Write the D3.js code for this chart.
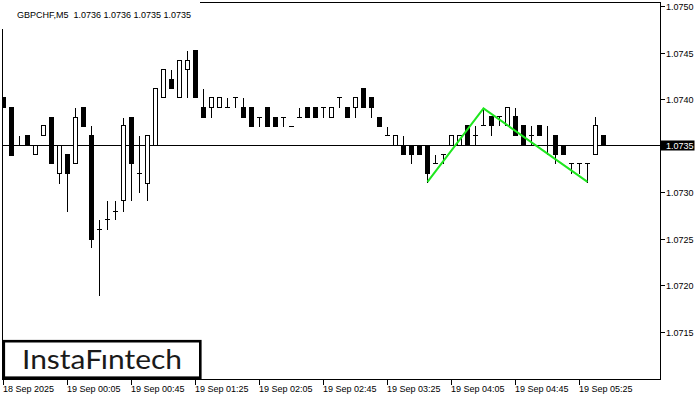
<!DOCTYPE html>
<html><head><meta charset="utf-8">
<script src="https://cdn.jsdelivr.net/npm/d3@7"></script>
<style>html,body{margin:0;padding:0;background:#fff;}svg{display:block;}</style>
</head><body>
<svg id="c" width="700" height="400"></svg>
<script>
// ---- data ----
const times = ["23:25","23:30","23:35","23:40","23:45","23:50","23:55","00:00",
"00:05","00:10","00:15","00:20","00:25","00:30","00:35","00:40",
"00:45","00:50","00:55","01:00","01:05","01:10","01:15","01:20",
"01:25","01:30","01:35","01:40","01:45","01:50","01:55","02:00",
"02:05","02:10","02:15","02:20","02:25","02:30","02:35","02:40",
"02:45","02:50","02:55","03:00","03:05","03:10","03:15","03:20",
"03:25","03:30","03:35","03:40","03:45","03:50","03:55","04:00",
"04:05","04:10","04:15","04:20","04:25","04:30","04:35","04:40",
"04:45","04:50","04:55","05:00","05:05","05:10","05:15","05:20",
"05:25","05:30","05:35","05:40"];
const open = [1.07402,1.07391,1.07351,1.07361,1.07341,1.07361,1.07381,1.07321,
1.07341,1.07331,1.07391,1.07361,1.07260,1.07271,1.07280,1.07291,
1.07381,1.07321,1.07310,1.07351,1.07402,1.07422,1.07402,1.07432,
1.07453,1.07391,1.07391,1.07391,1.07391,1.07402,1.07391,1.07391,
1.07381,1.07391,1.07381,1.07381,1.07371,1.07381,1.07391,1.07391,
1.07391,1.07381,1.07402,1.07391,1.07391,1.07412,1.07402,1.07381,
1.07361,1.07351,1.07351,1.07351,1.07351,1.07351,1.07331,1.07341,
1.07351,1.07351,1.07372,1.07361,1.07372,1.07382,1.07382,1.07372,
1.07382,1.07372,1.07361,1.07372,1.07351,1.07361,1.07351,1.07331,
1.07331,1.07331,1.07341,1.07361];
const high = [1.07402,1.07391,1.07361,1.07361,1.07351,1.07372,1.07381,1.07351,
1.07341,1.07391,1.07391,1.07372,1.07271,1.07291,1.07291,1.07381,
1.07381,1.07361,1.07361,1.07412,1.07432,1.07432,1.07442,1.07453,
1.07453,1.07412,1.07402,1.07402,1.07402,1.07402,1.07402,1.07391,
1.07381,1.07391,1.07381,1.07381,1.07371,1.07391,1.07391,1.07391,
1.07391,1.07391,1.07402,1.07391,1.07402,1.07412,1.07402,1.07381,
1.07371,1.07361,1.07361,1.07351,1.07351,1.07351,1.07341,1.07341,
1.07361,1.07361,1.07372,1.07372,1.07390,1.07382,1.07382,1.07391,
1.07391,1.07372,1.07372,1.07372,1.07372,1.07361,1.07351,1.07331,
1.07331,1.07331,1.07382,1.07361];
const low = [1.07391,1.07340,1.07351,1.07351,1.07341,1.07361,1.07331,1.07310,
1.07280,1.07331,1.07371,1.07241,1.07189,1.07260,1.07271,1.07280,
1.07291,1.07300,1.07291,1.07351,1.07402,1.07412,1.07402,1.07402,
1.07402,1.07381,1.07381,1.07391,1.07391,1.07391,1.07381,1.07371,
1.07371,1.07371,1.07371,1.07371,1.07371,1.07381,1.07381,1.07381,
1.07381,1.07381,1.07391,1.07381,1.07381,1.07391,1.07381,1.07371,
1.07361,1.07351,1.07341,1.07331,1.07341,1.07311,1.07331,1.07331,
1.07351,1.07351,1.07351,1.07351,1.07372,1.07361,1.07372,1.07372,
1.07361,1.07351,1.07351,1.07361,1.07341,1.07331,1.07341,1.07321,
1.07321,1.07311,1.07341,1.07351];
const close = [1.07391,1.07340,1.07351,1.07351,1.07351,1.07372,1.07331,1.07351,
1.07321,1.07381,1.07371,1.07250,1.07260,1.07271,1.07280,1.07372,
1.07331,1.07321,1.07361,1.07412,1.07432,1.07412,1.07442,1.07442,
1.07402,1.07381,1.07402,1.07402,1.07391,1.07402,1.07381,1.07371,
1.07381,1.07371,1.07371,1.07381,1.07371,1.07381,1.07381,1.07381,
1.07391,1.07391,1.07402,1.07381,1.07402,1.07391,1.07391,1.07371,
1.07361,1.07361,1.07341,1.07341,1.07341,1.07321,1.07331,1.07341,
1.07361,1.07361,1.07351,1.07361,1.07372,1.07372,1.07382,1.07391,
1.07361,1.07351,1.07361,1.07361,1.07351,1.07341,1.07341,1.07331,
1.07331,1.07331,1.07372,1.07351];
const priceTicks = [1.0750,1.0745,1.0740,1.0735,1.0730,1.0725,1.0720,1.0715];
const timeTickIdx = [0,8,16,24,32,40,48,56,64,72];
const timeTickLabels = ["18 Sep 2025","19 Sep 00:05","19 Sep 00:45","19 Sep 01:25","19 Sep 02:05",
"19 Sep 02:45","19 Sep 03:25","19 Sep 04:05","19 Sep 04:45","19 Sep 05:25"];
const patternIdx = [53,60,73];
const patternPrice = [1.07311,1.07390,1.07311];
const headerText = "GBPCHF,M5  1.0736 1.0736 1.0735 1.0735";
const currentPrice = 1.07351;

// ---- layout ----
const svg = d3.select("#c");
const plotL = 2.5, plotR = 660.5, plotT = 2.5, plotB = 379.5;
const x = d3.scalePoint().domain(times).range([3.5, 603.5]);
const y = d3.scaleLinear().domain([1.0715, 1.0750]).range([331.7, 6]);
const sy = v => Math.round(y(v)) + 0.5;
const font = "'Liberation Sans', Arial, sans-serif";

svg.append("defs").append("clipPath").attr("id","pc")
  .append("rect").attr("x",plotL).attr("y",plotT).attr("width",plotR-plotL).attr("height",plotB-plotT);

const g = svg.append("g").attr("clip-path","url(#pc)").attr("shape-rendering","crispEdges");

// current price line
g.append("line").attr("x1",plotL).attr("x2",plotR).attr("y1",sy(currentPrice)).attr("y2",sy(currentPrice))
  .attr("stroke","#000").attr("stroke-width",1);

const candles = times.map((t,i)=>({t,o:open[i],h:high[i],l:low[i],c:close[i]}));
const cg = g.selectAll("g.c").data(candles).join("g");
cg.append("line").attr("x1",d=>x(d.t)).attr("x2",d=>x(d.t))
  .attr("y1",d=>sy(d.h)).attr("y2",d=>sy(d.l)).attr("stroke","#000");
cg.each(function(d){
  const s = d3.select(this), cx = x(d.t);
  const yo = sy(d.o), yc = sy(d.c);
  if (yo === yc) {
    s.append("line").attr("x1",cx-2.5).attr("x2",cx+2.5).attr("y1",yo).attr("y2",yo).attr("stroke","#000");
  } else {
    const top = Math.min(yo,yc), bot = Math.max(yo,yc);
    s.append("rect").attr("x",cx-2).attr("width",4).attr("y",top).attr("height",bot-top)
      .attr("fill", d.c < d.o ? "#000" : "#fff").attr("stroke","#000");
  }
});

// pattern line
const pat = patternIdx.map((k,i)=>[x(times[k]), y(patternPrice[i])]);
svg.append("path").attr("d", d3.line()(pat)).attr("fill","none")
  .attr("stroke","#1ee61e").attr("stroke-width",2).attr("stroke-linejoin","miter");

// frame
const fr = svg.append("g").attr("shape-rendering","crispEdges");
fr.append("rect").attr("x",plotL).attr("y",plotT).attr("width",plotR-plotL).attr("height",plotB-plotT)
  .attr("fill","none").attr("stroke","#000");
// header area (covers frame)
svg.append("rect").attr("x",0).attr("y",0).attr("width",200).attr("height",29).attr("fill","#fff");
svg.append("text").attr("x",17).attr("y",18).attr("font-family",font).attr("font-size",9)
  .attr("fill","#000").attr("xml:space","preserve").style("white-space","pre").text(headerText);

// right axis
const ra = svg.append("g");
priceTicks.forEach(p=>{
  ra.append("line").attr("x1",plotR).attr("x2",plotR+4).attr("y1",sy(p)).attr("y2",sy(p))
    .attr("stroke","#000").attr("shape-rendering","crispEdges");
  ra.append("text").attr("x",666).attr("y",Math.round(y(p))+3.5).attr("font-family",font)
    .attr("font-size",9).attr("fill","#000").text(d3.format(".4f")(p));
});
// current price box
const cpY = sy(currentPrice);
ra.append("rect").attr("x",plotR).attr("y",cpY-5).attr("width",34).attr("height",10).attr("fill","#000");
ra.append("text").attr("x",666).attr("y",cpY+3.5).attr("font-family",font).attr("font-size",9)
  .attr("fill","#fff").text(d3.format(".4f")(Math.floor(currentPrice*10000)/10000));

// bottom axis
const ba = svg.append("g");
timeTickIdx.forEach((k,i)=>{
  const tx = x(times[k]);
  ba.append("line").attr("x1",tx).attr("x2",tx).attr("y1",plotB).attr("y2",plotB+5)
    .attr("stroke","#000").attr("shape-rendering","crispEdges");
  ba.append("text").attr("x",tx-0.5).attr("y",392).attr("font-family",font).attr("font-size",9)
    .attr("fill","#000").text(timeTickLabels[i]);
});

// logo
svg.append("rect").attr("x",3.8).attr("y",341.2).attr("width",196.5).attr("height",36.5)
  .attr("fill","#fff").attr("stroke","#000").attr("stroke-width",2.6);
svg.append("text").attr("x",22).attr("y",368.5).attr("font-family","Lato, 'Noto Sans', sans-serif")
  .attr("font-size",26.5).attr("font-weight",400).attr("fill","#1a1a1a")
  .attr("textLength",160).attr("lengthAdjust","spacingAndGlyphs").text("InstaFıntech");
</script>
</body></html>
